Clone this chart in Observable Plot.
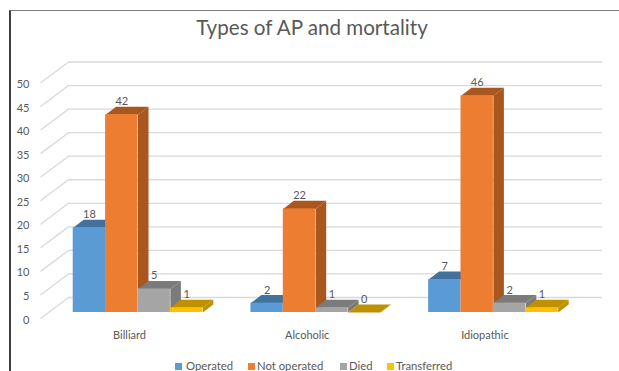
<!DOCTYPE html>
<html>
<head>
<meta charset="utf-8">
<script src="https://cdn.jsdelivr.net/npm/d3@7"></script>
<script src="https://cdn.jsdelivr.net/npm/@observablehq/plot@0.6"></script>
<style>
  html, body { margin: 0; padding: 0; background: #fff; overflow: hidden; }
  body { width: 619px; height: 371px; position: relative; font-family: Lato, sans-serif; color: #595959; }
  #frame { position: absolute; left: 9px; top: 10px; right: 0; bottom: 0; border-top: 1.5px solid #7f7f7f; border-left: 2px solid #404040; }
  #title { position: absolute; left: 0; width: 624px; top: 12px; text-align: center; font-size: 20.6px; line-height: 30px; }
  #chart { position: absolute; left: 0; top: 52px; }
  #chart svg { display: block; }
  #legend { position: absolute; top: 358px; left: 0; font-size: 11.3px; line-height: 16px; white-space: nowrap; }
  #legend span { position: absolute; top: 0; }
  #legend i { position: absolute; top: 5px; width: 7px; height: 7px; }
</style>
</head>
<body>
<div id="frame"></div>
<div id="title">Types of AP and mortality</div>
<div id="chart"></div>
<div id="legend"></div>
<script>
const groups = ["Billiard", "Alcoholic", "Idiopathic"];
const seriesNames = ["Operated", "Not operated", "Died", "Transferred"];
const operated = [18, 2, 7];
const notOperated = [42, 22, 46];
const died = [5, 1, 2];
const transferred = [1, 0, 1];
const yTicks = [0, 5, 10, 15, 20, 25, 30, 35, 40, 45, 50];

const frontColors = ["#5b9bd5", "#ed7d31", "#a5a5a5", "#ffc000"];
const shadeColors = ["#41719c", "#a9571f", "#7b7b7b", "#bf9000"];
const legendLeft = [[175, 186], [248, 257], [340, 349], [387, 396]];

// Bar footprint in group units on x and value units on y.
const barWidth = 0.1823;
const depthX = 0.0591;
const depthY = 1.7;
// Back wall offset of the gridlines, in the same units.
const xMin = -0.5487, xMax = 2.614, wallX = 0.1576;
const wallFront = -1.27, wallBack = 3.18;

const values = [operated, notOperated, died, transferred];
const bars = values.map((vals, s) => vals.map((v, g) => {
  const x1 = g + (s - 2) * barWidth;
  return {group: groups[g], s, v, x1, x2: x1 + barWidth};
}));

// Outline of the top and right faces of each bar in one series.
const topFace = rows => rows.flatMap(b => [
  {g: b.group, x: b.x1, y: b.v},
  {g: b.group, x: b.x2, y: b.v},
  {g: b.group, x: b.x2 + depthX, y: b.v + depthY},
  {g: b.group, x: b.x1 + depthX, y: b.v + depthY}
]);
const sideFace = rows => rows.flatMap(b => [
  {g: b.group, x: b.x2, y: 0},
  {g: b.group, x: b.x2 + depthX, y: depthY},
  {g: b.group, x: b.x2 + depthX, y: b.v + depthY},
  {g: b.group, x: b.x2, y: b.v}
]);

const chart = Plot.plot({
  width: 619,
  height: 300,
  marginLeft: 40,
  marginRight: 17,
  marginTop: 24.5,
  marginBottom: 40,
  style: {background: "transparent", fontFamily: "Lato, sans-serif", color: "#595959"},
  x: {domain: [xMin, xMax], axis: null},
  y: {domain: [0, 50], axis: null},
  marks: [
    Plot.ruleY(yTicks, {x1: xMin + wallX, x2: xMax, y: v => v + wallBack, stroke: "#d9d9d9", strokeWidth: 1.3}),
    Plot.link(yTicks, {x1: xMin, x2: xMin + wallX, y1: v => v + wallFront, y2: v => v + wallBack, stroke: "#d9d9d9", strokeWidth: 1.3}),
    Plot.axisY({ticks: yTicks, tickSize: 0, tickPadding: 11, dy: 7.5, label: null, fontSize: 11, fill: "#595959"}),
    Plot.axisX({ticks: [0, 1, 2], tickFormat: i => groups[i], tickSize: 0, tickPadding: 19, dx: -8.5, label: null, fontSize: 11, fill: "#595959"}),
    ...bars.flatMap((rows, s) => [
      Plot.line(sideFace(rows), {x: "x", y: "y", z: "g", fill: shadeColors[s], stroke: "none", curve: "linear-closed"}),
      Plot.line(topFace(rows), {x: "x", y: "y", z: "g", fill: shadeColors[s], stroke: "none", curve: "linear-closed"}),
      Plot.rect(rows, {x1: "x1", x2: "x2", y1: 0, y2: "v", fill: frontColors[s]})
    ]),
    ...bars.map(rows => Plot.text(rows, {
      x: b => (b.x1 + b.x2) / 2, y: "v", text: "v", dy: -13, fontSize: 11, fill: "#595959"
    }))
  ]
});
document.getElementById("chart").append(chart);

const legend = document.getElementById("legend");
seriesNames.forEach((name, s) => {
  const swatch = document.createElement("i");
  swatch.style.left = legendLeft[s][0] + "px";
  swatch.style.background = frontColors[s];
  const label = document.createElement("span");
  label.style.left = legendLeft[s][1] + "px";
  label.textContent = name;
  legend.append(swatch, label);
});
</script>
</body>
</html>
